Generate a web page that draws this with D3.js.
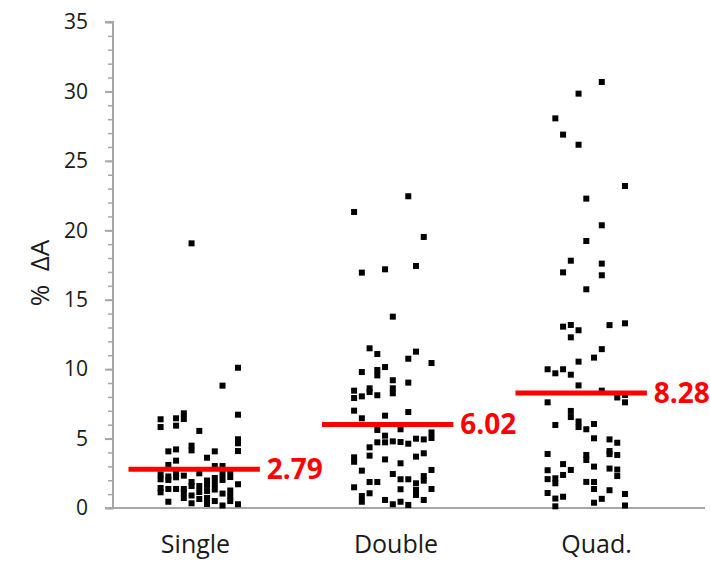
<!DOCTYPE html>
<html>
<head>
<meta charset="utf-8">
<script src="https://cdn.jsdelivr.net/npm/d3@7"></script>
<style>
  html, body { margin: 0; padding: 0; background: #ffffff; }
  svg { display: block; }
</style>
</head>
<body>
<svg id="chart" width="710" height="561"></svg>
<script>
// ---------------- data ----------------
const categories = ["Single", "Double", "Quad."];
const means = [2.79, 6.02, 8.28];
const yTicks = [0, 5, 10, 15, 20, 25, 30, 35];
const yMinorTicks = d3.range(0, 36, 1);

// jitter columns (index 0 => leftmost column, 10 => rightmost), values in % ΔA
const singleColumns = [
  [6.39, 5.83, 2.42, 2.07, 1.44, 1.13],
  [4.08, 3.10, 2.27, 2.02, 1.37, 0.45],
  [6.46, 5.93, 4.22, 3.41, 2.50, 2.21, 1.37],
  [6.82, 6.41, 2.33, 1.37, 1.13, 0.72],
  [19.06, 4.49, 4.15, 1.87, 1.58, 0.90, 0.34],
  [5.55, 2.50, 1.58, 1.15, 0.65],
  [3.62, 1.98, 1.66, 1.22, 0.72, 0.29],
  [4.08, 3.02, 2.16, 1.73, 1.33, 0.50],
  [8.81, 3.02, 2.45, 2.02, 1.04, 0.18],
  [2.66, 2.23, 1.26, 0.86, 0.50],
  [10.10, 6.72, 4.95, 4.66, 4.10, 1.71, 0.27]
];
const doubleColumns = [
  [21.32, 8.45, 7.92, 7.01, 3.65, 3.33, 1.49],
  [16.95, 9.79, 8.04, 6.46, 2.69, 0.86, 0.45],
  [11.50, 8.62, 8.35, 4.37, 3.77, 1.87, 1.06],
  [11.09, 9.94, 9.55, 8.12, 5.62, 4.73, 1.87],
  [17.19, 10.15, 6.65, 5.21, 4.73, 3.50, 0.58],
  [13.78, 9.20, 8.62, 8.26, 4.80, 2.45, 0.27],
  [5.67, 4.75, 3.22, 2.07, 1.35, 0.45],
  [22.45, 10.75, 9.03, 6.91, 4.63, 2.07, 0.22],
  [17.43, 11.26, 4.99, 3.70, 1.78, 1.30, 0.94],
  [19.52, 4.94, 3.94, 2.30, 1.97, 0.58],
  [10.44, 5.44, 5.04, 2.74, 1.37]
];
const quadColumns = [
  [9.99, 7.61, 3.89, 2.72, 2.08, 1.08],
  [28.06, 9.70, 5.98, 2.14, 1.78, 0.68, 0.12],
  [26.89, 16.97, 13.06, 9.99, 3.16, 2.38, 0.81],
  [17.81, 13.18, 12.29, 9.60, 6.99, 6.55, 2.74],
  [29.84, 26.16, 12.80, 10.54, 8.83, 6.23, 5.83],
  [22.28, 19.23, 15.75, 5.67, 3.82, 3.46, 1.88],
  [10.83, 6.05, 5.02, 2.98, 1.87, 1.37, 0.38],
  [30.68, 20.36, 17.60, 16.76, 11.44, 8.45, 0.66],
  [13.17, 4.94, 4.10, 3.88, 2.84, 1.28],
  [7.96, 4.70, 3.82, 2.77, 2.30],
  [23.19, 13.30, 8.14, 7.61, 1.01, 0.18]
];
const seriesColumns = [singleColumns, doubleColumns, quadColumns];
const jitterStep = 0.04;

// ---------------- layout ----------------
const svg = d3.select("#chart");
const axisX = 113, axisRight = 705;
const y = d3.scaleLinear().domain([0, 35]).range([508, 22]);
const x = d3.scaleLinear().domain([1, 3]).range([199.3, 586.3]);
const xLabel = d3.scaleLinear().domain([1, 3]).range([195.5, 596.5]);
const axisColor = "#a6a6a6";
const textColor = "#1a1a1a";
const fontFamily = "'Open Sans', 'DejaVu Sans', sans-serif";

const points = [];
seriesColumns.forEach((cols, ci) => {
  cols.forEach((vals, k) => {
    vals.forEach(v => points.push({ cx: ci + 1 + (k - 5) * jitterStep, v }));
  });
});

// y axis minor ticks
const minorAxis = d3.axisLeft(y).tickValues(yMinorTicks).tickSize(5).tickFormat("");
const gMinor = svg.append("g").attr("transform", `translate(${axisX},0)`).call(minorAxis);
gMinor.select(".domain").remove();
gMinor.selectAll("line").attr("stroke", axisColor).attr("stroke-width", 1.5);

// y axis major
const majorAxis = d3.axisLeft(y).tickValues(yTicks).tickSize(8).tickPadding(17);
const gMajor = svg.append("g").attr("transform", `translate(${axisX},0)`).call(majorAxis);
gMajor.select(".domain").attr("stroke", axisColor).attr("stroke-width", 2)
  .attr("d", `M-8,${y(35)}H0V${y(0)}`);
gMajor.selectAll("line").attr("stroke", axisColor).attr("stroke-width", 2);
gMajor.selectAll("text").attr("fill", textColor).style("font-family", fontFamily).style("font-size", "21px");

// x axis line
svg.append("line")
  .attr("x1", axisX - 8).attr("x2", axisRight)
  .attr("y1", y(0)).attr("y2", y(0))
  .attr("stroke", axisColor).attr("stroke-width", 2);

// category labels
svg.append("g").selectAll("text").data(categories).join("text")
  .attr("x", (d, i) => xLabel(i + 1))
  .attr("y", 553)
  .attr("text-anchor", "middle")
  .attr("fill", textColor)
  .style("font-family", fontFamily).style("font-size", "25px")
  .text(d => d);

// y title
svg.append("text")
  .attr("transform", `translate(49,273) rotate(-90)`)
  .attr("text-anchor", "middle")
  .attr("fill", textColor)
  .style("font-family", fontFamily).style("font-size", "26px")
  .style("white-space", "pre")
  .text("%  ΔA");

// points
const ms = 6;
svg.append("g").selectAll("rect").data(points).join("rect")
  .attr("x", d => x(d.cx) - ms / 2)
  .attr("y", d => y(d.v) - ms / 2)
  .attr("width", ms).attr("height", ms)
  .attr("fill", "#000000");

// mean lines
const leftExt = 0.366, rightExt = 0.313;
svg.append("g").selectAll("line").data(means).join("line")
  .attr("x1", (d, i) => x(i + 1 - leftExt))
  .attr("x2", (d, i) => x(i + 1 + rightExt))
  .attr("y1", d => y(d)).attr("y2", d => y(d))
  .attr("stroke", "#ff0000").attr("stroke-width", 5);

svg.append("g").selectAll("text").data(means).join("text")
  .attr("x", (d, i) => x(i + 1 + rightExt) + 7)
  .attr("y", d => y(d))
  .attr("dy", "0.36em")
  .attr("fill", "#ff0000")
  .style("font-family", fontFamily).style("font-size", "28px").style("font-weight", "700")
  .text(d => d.toFixed(2));
</script>
</body>
</html>
